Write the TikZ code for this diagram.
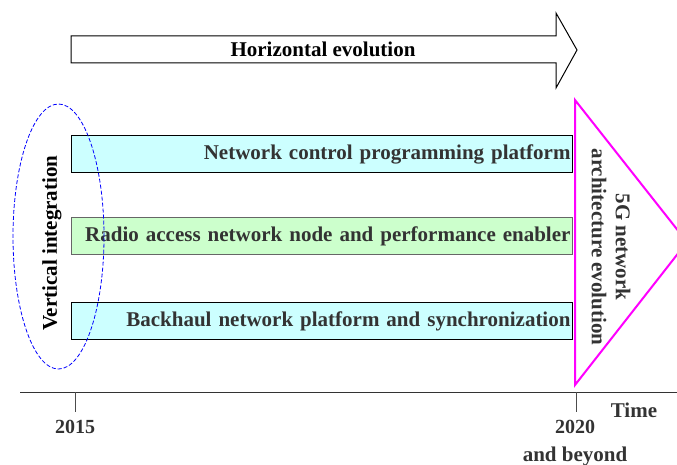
\documentclass[tikz,border=0pt]{standalone}
\usepackage{fontspec}
\setmainfont{Liberation Serif}
\usetikzlibrary{shapes.geometric}
\definecolor{barblue}{RGB}{204,255,255}
\definecolor{bargreen}{RGB}{204,255,204}
\definecolor{bartext}{RGB}{51,51,51}
\definecolor{pink5g}{RGB}{255,0,255}

\begin{document}
\begin{tikzpicture}[x=1pt,y=-1pt,line width=1pt,
  bar/.style={draw,fill=barblue,anchor=north west,minimum height=37pt,text width=497pt,align=right,
    inner xsep=2pt,font=\bfseries\fontsize{21}{24}\selectfont,text=bartext},
  lbl/.style={font=\bfseries\fontsize{21}{24}\selectfont},
  year/.style={font=\bfseries\fontsize{20}{24}\selectfont,text=bartext}]

  \useasboundingbox (0,0) rectangle (677,465);
  \clip (0,0) rectangle (677,465);

  % horizontal evolution arrow
  \draw (71,36) -- (556,36) -- (556,13) -- (577,50) -- (556,88) -- (556,63) -- (71,63) -- cycle;
  \node[lbl] (horiz) at (323,49) {Horizontal evolution};

  % the three platforms
  \node[bar] (ctrl) at (71,135) {Network control programming platform};
  \node[bar,fill=bargreen,draw=black!60] (ran) at (71,217) {Radio access network node and performance enabler};
  \node[bar] (bh) at (71,302) {Backhaul network platform and synchronization};

  % 5G triangle
  \draw[pink5g,line width=2pt,line join=miter] (575,100) -- (687,242) -- (575,385) -- cycle;
  \node[lbl,rotate=-90,align=center,text=bartext] (arch) at (611,247) {5G network\\architecture evolution};

  % vertical integration
  \node[lbl,rotate=90] (vert) at (52,243) {Vertical integration};
  \node[ellipse,draw=blue,line width=0.8pt,dash pattern=on 4pt off 2pt,minimum width=91pt,minimum height=265pt] (vgroup) at (58.5,236.5) {};

  % time axis
  \coordinate (axL) at (20,392);
  \coordinate (axR) at (677,392);
  \coordinate (t15) at (75,392);
  \coordinate (t20) at (576,392);
  \draw[black!80] (axL) -- (axR);
  \draw[black!70] (t15) -- ++(0,20);
  \draw[black!70] (t20) -- ++(0,20);
  \node[year] (y15) at (75,427) {2015};
  \node[year] (y20) at (575,427) {2020};
  \node[lbl,text=bartext] (beyond) at (575,456) {and beyond};
  \node[lbl,text=bartext] (time) at (634,410) {Time};

\end{tikzpicture}
\end{document}
